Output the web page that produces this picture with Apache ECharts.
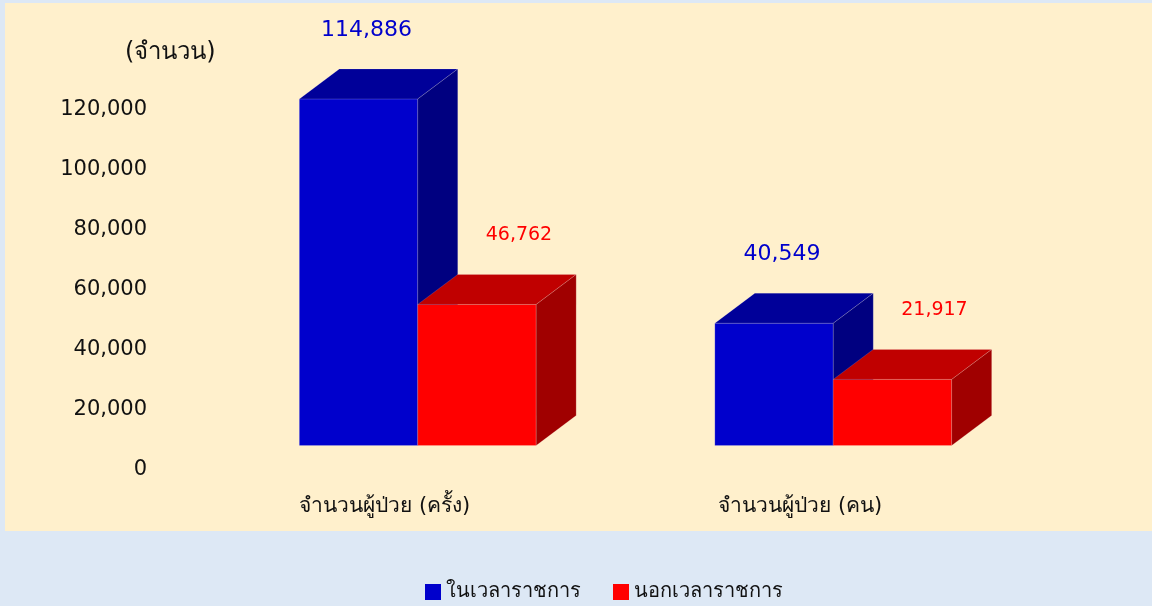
<!DOCTYPE html>
<html>
<head>
<meta charset="utf-8">
<script src="https://cdn.jsdelivr.net/npm/echarts@6/dist/echarts.min.js"></script>
<style>
    html, body { margin:0; padding:0; background:#dde8f5; }
    #main { width:1152px; height:606px; }
</style>
</head>
<body>
<div id="main"></div>
<script>
//หมวดหมู่
let categories = ['จำนวนผู้ป่วย (ครั้ง)', 'จำนวนผู้ป่วย (คน)']
//ชื่อชุดข้อมูล
let seriesNames = ['ในเวลาราชการ', 'นอกเวลาราชการ']
//ค่า ในเวลาราชการ
let inHours = [114886, 40549]
//ค่า นอกเวลาราชการ
let outHours = [46762, 21917]
//ป้ายแกน y
let yTicks = [0, 20000, 40000, 60000, 80000, 100000, 120000]

let fontFam = 'Tahoma, "DejaVu Sans", sans-serif'
//สีหน้า / บน / ข้าง
let faces = [
    {front:'#0000cc', top:'#000099', side:'#000080', label:'#0000cc', size:22, ldx:8},
    {front:'#ff0000', top:'#c00000', side:'#a00000', label:'#ff0000', size:19, ldx:42}
]
let depthX = 40
let depthY = 30

function render3d(sIdx){
    return function(params, api){
        let cat = api.value(0)
        let val = api.value(1)
        let base = api.coord([cat, 0])
        let top = api.coord([cat, val])
        let band = api.size([1, 0])[0]
        let w = band * 0.285
        let x0 = sIdx === 0 ? base[0] - w : base[0]
        let x1 = x0 + w
        let yb = base[1]
        let yt = top[1]
        let f = faces[sIdx]
        let edge = {stroke: 'rgba(255,255,255,0.25)', lineWidth: 0.6}
        return {
            type:'group',
            children:[
                {type:'polygon', shape:{points:[[x0,yt],[x1,yt],[x1,yb],[x0,yb]]},
                    style:Object.assign({fill:f.front}, edge)},
                {type:'polygon', shape:{points:[[x0,yt],[x0+depthX,yt-depthY],[x1+depthX,yt-depthY],[x1,yt]]},
                    style:Object.assign({fill:f.top}, edge)},
                {type:'polygon', shape:{points:[[x1,yt],[x1+depthX,yt-depthY],[x1+depthX,yb-depthY],[x1,yb]]},
                    style:Object.assign({fill:f.side}, edge)},
                {type:'text', x:(x0+x1)/2 + f.ldx, y:yt - depthY - 39,
                    style:{text:val.toLocaleString('en-US'), fill:f.label, fontSize:f.size,
                        fontFamily:fontFam, align:'center', verticalAlign:'middle'}}
            ]
        }
    }
}

let chart = echarts.init(document.getElementById('main'))
let option = {
    backgroundColor:'#dde8f5',
    animation:false,
    graphic:[
        {type:'rect', left:5, top:3, shape:{width:1147, height:528}, style:{fill:'#fff0cc'}, z:-10}
    ],
    title:{
        text:'(จำนวน)', left:120, top:36,
        textStyle:{fontSize:24, fontWeight:'normal', color:'#111', fontFamily:fontFam}
    },
    legend:{
        top:577, left:420,
        icon:'rect', itemWidth:16, itemHeight:16, itemGap:32,
        textStyle:{fontSize:20, color:'#111', fontFamily:fontFam},
        data:seriesNames
    },
    grid:[
        {left:210, right:111, top:83.5, bottom:160.5},
        {left:210, right:111, top:110, bottom:136}
    ],
    xAxis:[
        {type:'category', gridIndex:0, data:categories,
            axisLine:{show:false}, axisTick:{show:false},
            axisLabel:{margin:51, fontSize:21, color:'#111', fontFamily:fontFam, padding:[0,66,0,0]}},
        {type:'category', gridIndex:1, data:categories, show:false}
    ],
    yAxis:[
        {type:'value', gridIndex:0, min:0, max:120000, show:false},
        {type:'value', gridIndex:1, min:yTicks[0], max:yTicks[yTicks.length-1], interval:20000,
            axisLine:{show:false}, axisTick:{show:false}, splitLine:{show:false},
            axisLabel:{margin:63, fontSize:21, color:'#111', fontFamily:fontFam,
                formatter:v => v.toLocaleString('en-US')}}
    ],
    series:[
        {name:seriesNames[0], type:'custom', xAxisIndex:0, yAxisIndex:0, color:faces[0].front,
            renderItem:render3d(0), data:inHours.map((v,i) => [i, v])},
        {name:seriesNames[1], type:'custom', xAxisIndex:0, yAxisIndex:0, color:faces[1].front,
            renderItem:render3d(1), data:outHours.map((v,i) => [i, v])}
    ]
}
chart.setOption(option)
</script>
</body>
</html>
